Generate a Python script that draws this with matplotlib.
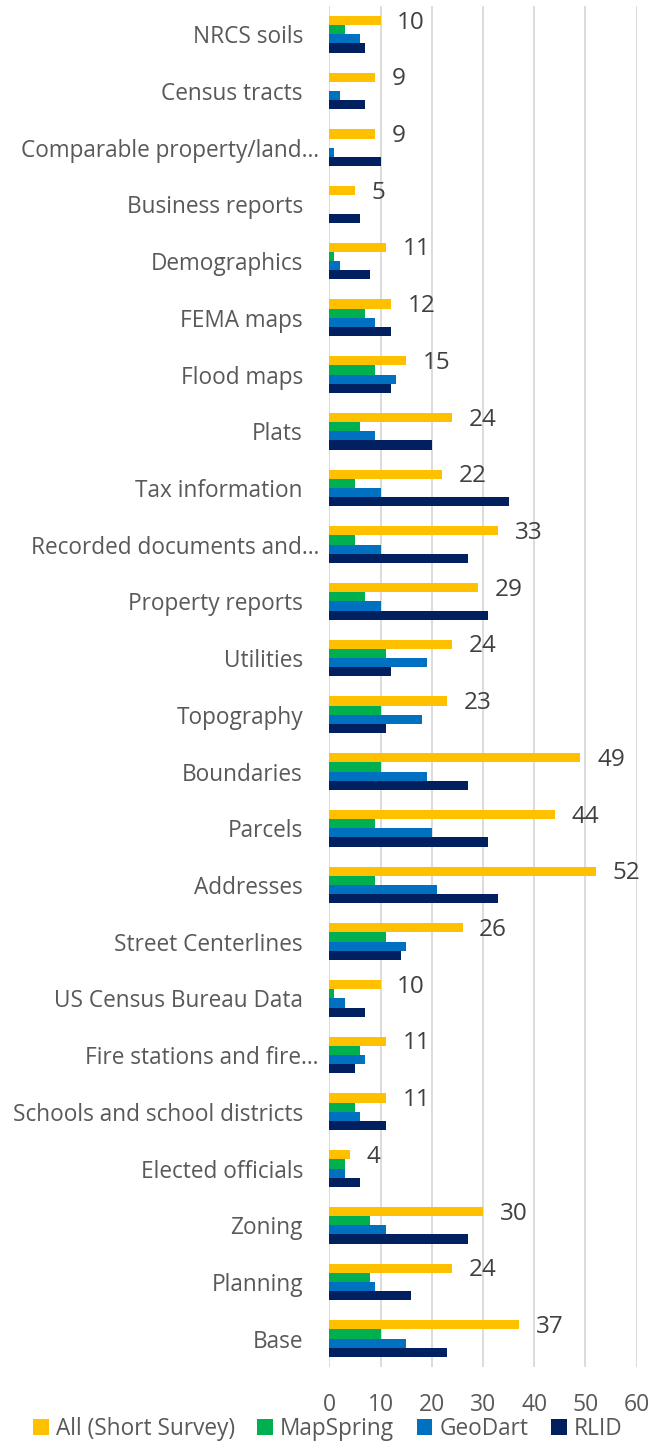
import matplotlib
matplotlib.use("Agg")
import matplotlib.pyplot as plt
from matplotlib.patches import Patch
from matplotlib.transforms import ScaledTranslation
import numpy as np

plt.rcParams['font.family'] = ['Open Sans', 'DejaVu Sans']

categories = ["NRCS soils", "Census tracts", "Comparable property/land…", "Business reports",
              "Demographics", "FEMA maps", "Flood maps", "Plats", "Tax information",
              "Recorded documents and…", "Property reports", "Utilities", "Topography",
              "Boundaries", "Parcels", "Addresses", "Street Centerlines", "US Census Bureau Data",
              "Fire stations and fire…", "Schools and school districts", "Elected officials",
              "Zoning", "Planning", "Base"]
all_short = [10, 9, 9, 5, 11, 12, 15, 24, 22, 33, 29, 24, 23, 49, 44, 52, 26, 10, 11, 11, 4, 30, 24, 37]
mapspring = [3, 0, 0, 0, 1, 7, 9, 6, 5, 5, 7, 11, 10, 10, 9, 9, 11, 1, 6, 5, 3, 8, 8, 10]
geodart = [6, 2, 1, 0, 2, 9, 13, 9, 10, 10, 10, 19, 18, 19, 20, 21, 15, 3, 7, 6, 3, 11, 9, 15]
rlid = [7, 7, 10, 6, 8, 12, 12, 20, 35, 27, 31, 12, 11, 27, 31, 33, 14, 7, 5, 11, 6, 27, 16, 23]
series_names = ["All (Short Survey)", "MapSpring", "GeoDart", "RLID"]
colors = ["#FFC000", "#00B050", "#0070C0", "#002060"]
xticks = [0, 10, 20, 30, 40, 50, 60]

W, H = 655, 1443
fig = plt.figure(figsize=(W / 100, H / 100), dpi=100)
left, right, top, bottom = 329.3, 636.7, 5.9, 1367
ax = fig.add_axes([left / W, 1 - bottom / H, (right - left) / W, (bottom - top) / H])

y = np.arange(len(categories))
h = 0.1617
for k, (vals, c) in enumerate(zip([all_short, mapspring, geodart, rlid], colors)):
    ax.barh(y + (k - 1.5) * h, vals, height=h, color=c, zorder=3, label=series_names[k])

for yi, v in zip(y, all_short):
    ax.annotate(str(v), xy=(v, yi - 1.5 * h), xytext=(12.0, -1.5), textcoords='offset points',
                va='center', ha='left', fontsize=17.5, color='#404040')

ax.set_xlim(0, 60)
ax.set_ylim(len(categories) - 0.5, -0.5)
ax.set_xticks(xticks)
ax.set_xticklabels([str(t) for t in xticks])
ax.set_yticks(y)
ax.set_yticklabels(categories)
ax.tick_params(axis='y', length=0, pad=19, labelsize=16.3, labelcolor='#595959')
ax.tick_params(axis='x', length=0, pad=19, labelsize=16.5, labelcolor='#595959')
for lbl in ax.get_yticklabels():
    if lbl.get_text().endswith("…"):
        lbl.set_transform(lbl.get_transform() + ScaledTranslation(16 / 100, 0, fig.dpi_scale_trans))

ax.grid(axis='x', color='#D9D9D9', linewidth=1.3, zorder=0)
for s in ax.spines.values():
    s.set_visible(False)

handles = [Patch(facecolor=c, edgecolor='none') for c in colors]
fig.legend(handles, series_names, loc='center', bbox_to_anchor=(0.5, 1 - 1429 / H), ncol=4,
           frameon=False, fontsize=16.3, labelcolor='#595959', handlelength=0.7, handleheight=0.7,
           handletextpad=0.3, columnspacing=1.0, borderpad=0)

fig.savefig("out.png", dpi=100)
